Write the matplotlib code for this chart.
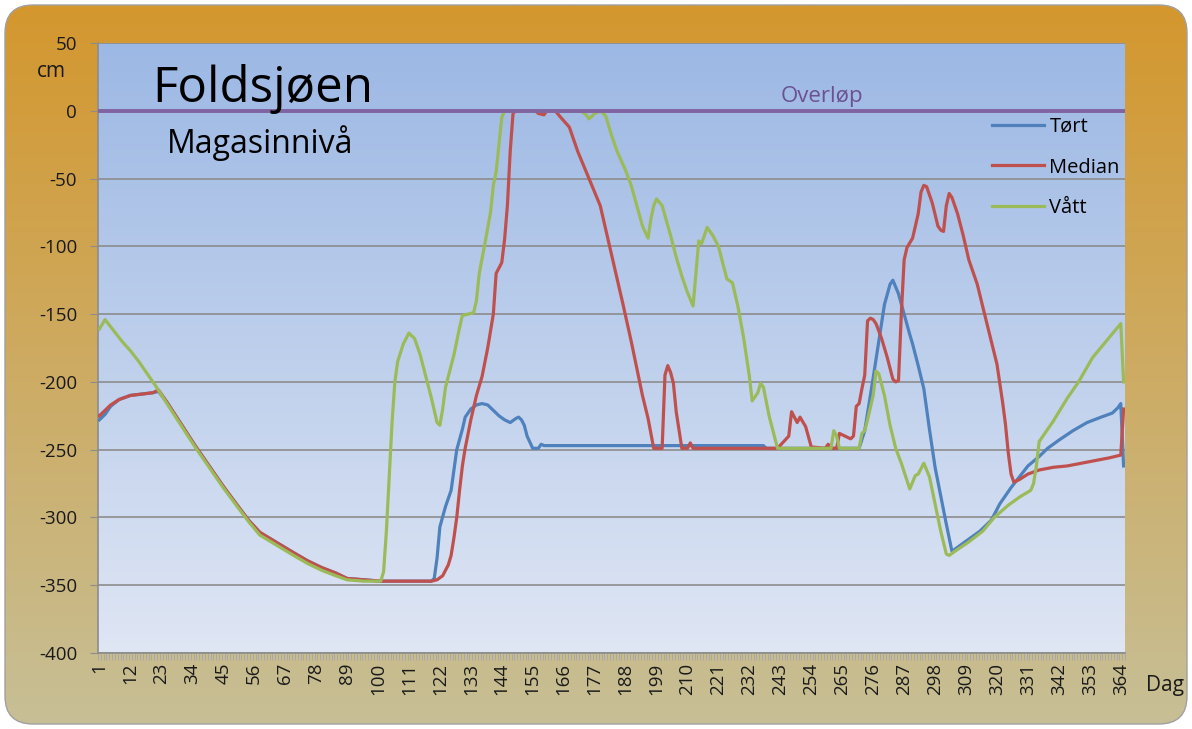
import numpy as np
import matplotlib
matplotlib.use('Agg')
import matplotlib.pyplot as plt
from matplotlib.patches import FancyBboxPatch

plt.rcParams['font.family'] = ['Open Sans', 'DejaVu Sans']
plt.rcParams['axes.unicode_minus'] = False

# --- data (dag, cm) ---
vatt_dag = [1, 3, 6, 9, 12, 15, 18, 21, 25, 30, 35, 40, 45, 50, 54, 58, 62, 66, 70, 75, 80, 85, 89, 95, 101,
            102, 103, 104, 105, 106, 107, 109, 111, 113, 115, 117, 119, 121, 122, 123, 124, 125, 127, 129, 130,
            132, 134, 135, 136, 138, 140, 141, 142, 143, 144, 145,
            172, 174, 175, 177, 179, 181, 183, 185, 188, 190, 192, 194, 196, 197, 198, 199, 201, 204, 206, 208,
            210, 212, 213, 214, 215, 216, 217, 219, 221, 223, 224, 226, 228, 230, 232, 233, 235, 236, 237, 239, 242,
            261, 262, 263, 264, 271, 272, 273, 274, 276, 277, 278, 280, 282, 284, 286, 289, 290, 291, 292, 294,
            296, 298, 300, 302, 303, 305, 310, 315, 319, 324, 328, 332, 333, 334, 335, 337, 340, 345, 349, 354,
            358, 362, 364, 365]
vatt_cm = [-161, -154, -162, -170, -177, -185, -194, -203, -216, -232, -248, -263, -278, -292, -303, -313, -318,
           -323, -328, -334, -339, -343, -346, -347, -347,
           -340, -310, -270, -230, -200, -185, -172, -164, -168, -180, -196, -212, -230, -232, -220, -204, -196,
           -180, -160, -151, -150, -149, -140, -120, -98, -75, -55, -45, -25, -5, 0,
           0, -3, -6, -2, 0, -4, -18, -30, -44, -55, -70, -85, -94, -80, -70, -65, -70, -92, -108, -122,
           -134, -144, -120, -96, -98, -92, -86, -92, -100, -116, -124, -127, -145, -168, -196, -214, -208, -201,
           -204, -225, -249,
           -249, -236, -240, -249, -249, -238, -236, -228, -210, -192, -194, -210, -232, -249, -260, -279, -274,
           -269, -268, -260, -270, -290, -310, -327, -328, -325, -318, -310, -300, -291, -285, -280, -275, -262,
           -244, -238, -229, -212, -200, -182, -172, -162, -157, -200]

median_dag = [1, 3, 5, 8, 12, 16, 20, 22, 25, 30, 35, 40, 45, 50, 54, 58, 62, 66, 70, 75, 80, 85, 89, 95, 101, 119,
              121, 123, 125, 126, 127, 128, 129, 130, 131, 133, 135, 137, 139, 141, 142, 144, 145, 146, 147, 148,
              149, 156, 157, 159, 160, 163, 165, 168, 170, 171, 173, 176, 179, 181, 184, 187, 190, 192, 194, 196,
              198, 201, 202, 203, 204, 205, 206, 208,
              210, 211, 212, 242, 246, 247, 248, 249, 250, 252, 254, 259, 260, 261, 263, 264, 266, 268, 269, 270,
              271, 272, 273, 274, 275, 276, 277, 279, 281, 283, 284, 285, 286, 287, 288, 290, 292, 293, 294, 295,
              297, 299, 300, 301, 302, 303, 304, 306, 308, 310, 313, 315, 318, 320, 322, 323, 324, 325, 326, 328,
              331, 335, 340, 345, 350, 355, 360, 364, 365]
median_cm = [-225, -221, -217, -213, -210, -209, -208, -206, -215, -231, -247, -262, -277, -291, -302, -311, -316,
             -321, -326, -332, -337, -341, -345, -346, -347, -347,
             -346, -343, -335, -328, -315, -300, -280, -262, -249, -228, -210, -196, -175, -150, -120, -112, -95,
             -70, -30, -2, 0, 0, -2, -3, 0, 0, -5, -12, -24, -30, -40, -55, -70, -88, -115, -142, -170, -190,
             -210, -227, -249, -249, -195, -188, -193, -201, -222, -249,
             -249, -245, -249, -249, -240, -222, -226, -230, -226, -233, -248, -249, -246, -249, -249, -238, -240,
             -242, -240, -218, -216, -205, -195, -155, -153, -154, -157, -168, -182, -198, -200, -199, -150, -110,
             -101, -94, -76, -60, -55, -56, -68, -85, -88, -89, -70, -61, -64, -76, -92, -110, -128, -145, -170,
             -187, -215, -231, -252, -268, -274, -272, -268, -265, -263, -262, -260, -258, -256, -254, -220]

tort_dag = [1, 3, 5, 8, 12, 16, 20, 22, 25, 30, 35, 40, 45, 50, 54, 58, 62, 66, 70, 75, 80, 85, 89, 95, 101, 119,
            120, 121, 122, 124, 126, 127, 128, 130, 131, 133, 135, 137, 139, 141, 143, 145, 147, 149, 150, 151,
            152, 153, 155, 157, 158, 159, 237, 238, 270,
            271, 273, 276, 278, 280, 282, 283, 285, 287, 289, 290, 292, 294, 296, 298, 300, 302, 304, 306, 310,
            314, 318, 321, 325, 328, 331, 335, 338, 342, 347, 352, 357, 361, 363, 364, 365]
tort_cm = [-228, -224, -218, -213, -210, -209, -208, -207, -215, -231, -247, -262, -277, -291, -302, -311, -316,
           -321, -326, -332, -337, -341, -345, -346, -347, -347,
           -345, -330, -307, -292, -280, -265, -250, -235, -226, -220, -217, -216, -217, -221, -225, -228, -230,
           -227, -226, -228, -232, -240, -249, -249, -246, -247, -247, -249, -249,
           -249, -236, -197, -170, -143, -128, -125, -135, -150, -165, -172, -188, -205, -235, -263, -284, -305,
           -325, -322, -316, -310, -302, -290, -278, -270, -262, -255, -249, -243, -236, -230, -226, -223, -219,
           -216, -262]

overlop = 0
tick_days = list(range(1, 366, 11))
y_ticks = list(range(-400, 51, 50))

W, H = 1192, 729
fig = plt.figure(figsize=(W / 100, H / 100), dpi=100)

# background: rounded frame with orange->khaki gradient, plot area blue gradient
bg = fig.add_axes([0, 0, 1, 1])
bg.axis('off')
g = np.linspace(0, 1, 256)[:, None, None]
top = np.array([212, 151, 46]) / 255.0
bot = np.array([199, 191, 150]) / 255.0
frame_img = top * (1 - g) + bot * g
frame = FancyBboxPatch((5, 5), 1182, 719, boxstyle='round,pad=0,rounding_size=28',
                       fc='none', ec='#a0a0a0', lw=1.0, zorder=3)
bg.add_patch(frame)
im = bg.imshow(frame_img, extent=[5, 1187, 724, 5], aspect='auto', zorder=1)
im.set_clip_path(frame)

ptop = np.array([156, 184, 228]) / 255.0
pbot = np.array([223, 230, 244]) / 255.0
plot_img = ptop * (1 - g) + pbot * g
bg.imshow(plot_img, extent=[98, 1125, 653, 43], aspect='auto', zorder=2)
bg.set_xlim(0, W)
bg.set_ylim(H, 0)

ax = fig.add_axes([98 / W, 1 - 653 / H, 1027 / W, 610 / H])
ax.patch.set_visible(False)

ax.plot(tort_dag, tort_cm, color='#4F81BD', lw=2.3, label='Tørt', zorder=3)
ax.plot(median_dag, median_cm, color='#C0504D', lw=2.3, label='Median', zorder=4)
ax.plot(vatt_dag, vatt_cm, color='#9BBB59', lw=2.3, label='Vått', zorder=5)
ax.axhline(overlop, color='#8064A2', lw=2.8, zorder=6)

ax.set_xlim(0.5, 365.5)
ax.set_ylim(-400, 50)
ax.set_yticks(y_ticks)
ax.set_xticks(tick_days)
ax.set_xticks(np.arange(0.5, 366, 1), minor=True)
ax.grid(axis='y', color='#8c8c8c', lw=1.2, zorder=1)
for s in ['top', 'right']:
    ax.spines[s].set_visible(False)
for s in ['left', 'bottom']:
    ax.spines[s].set_color('#8c8c8c')
    ax.spines[s].set_linewidth(1.2)
ax.tick_params(axis='y', length=6, color='#8c8c8c', labelsize=13.5, pad=9, labelcolor='#1a1a1a')
ax.tick_params(axis='x', which='major', length=0, labelsize=13.5, pad=7, labelrotation=90, labelcolor='#1a1a1a')
ax.tick_params(axis='x', which='minor', length=5, width=0.7, color='#a8a8a8')

ax.legend(loc='upper left', bbox_to_anchor=(992 / W, 1 - 117 / H), bbox_transform=fig.transFigure,
          frameon=False, fontsize=14.5, handlelength=2.6, handletextpad=0.25, labelspacing=1.02,
          borderpad=0, borderaxespad=0)

fig.text(152 / W, 1 - 102 / H, 'Foldsjøen', fontsize=35.5, ha='left', va='baseline', color='black')
fig.text(167 / W, 1 - 153 / H, 'Magasinnivå', fontsize=23, ha='left', va='baseline', color='black')
fig.text(822 / W, 1 - 102 / H, 'Overløp', fontsize=16, ha='center', va='baseline', color='#6B5192')
fig.text(51 / W, 1 - 77 / H, 'cm', fontsize=15, ha='center', va='baseline', color='#1a1a1a')
fig.text(1165 / W, 1 - 686 / H, 'Dag', fontsize=15, ha='center', va='center', color='#1a1a1a')

fig.savefig('out.png', dpi=100)
